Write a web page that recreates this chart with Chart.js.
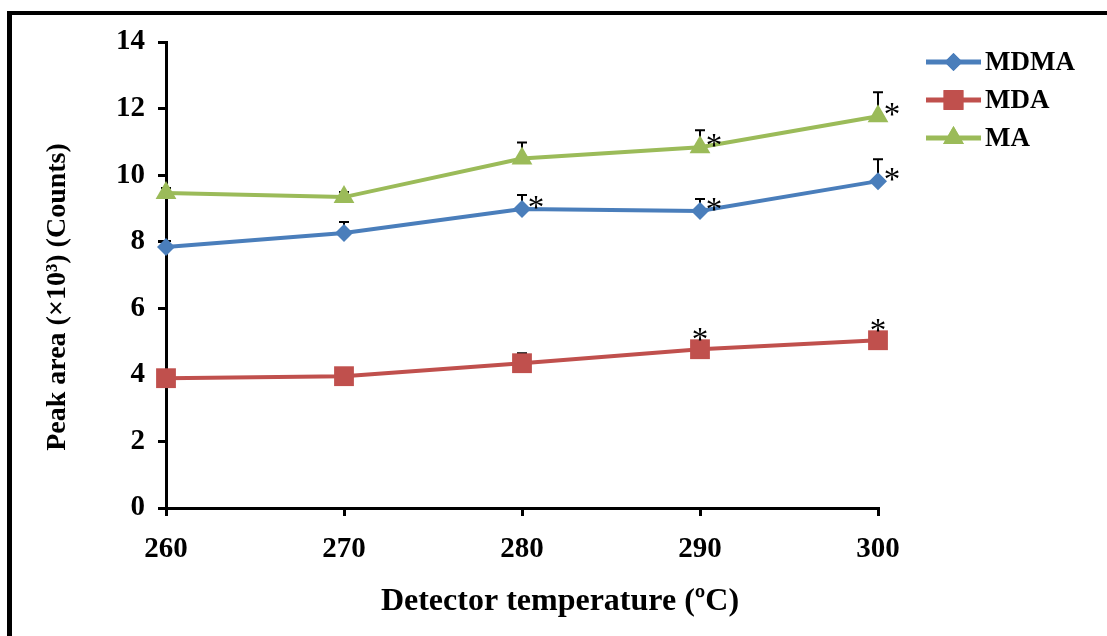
<!DOCTYPE html>
<html><head><meta charset="utf-8">
<script src="https://cdn.jsdelivr.net/npm/chart.js@4.4.0/dist/chart.umd.min.js"></script>
<style>
html,body{margin:0;padding:0;background:#fff;}
#wrap{position:relative;width:1107px;height:636px;overflow:hidden;background:#fff;}
#frameTop{position:absolute;left:7px;top:11px;width:1100px;height:4px;background:#000;}
#frameLeft{position:absolute;left:7px;top:11px;width:5px;height:625px;background:#000;}
canvas{position:absolute;left:0;top:0;}
</style></head><body>
<div id="wrap"><canvas id="c" width="1107" height="636"></canvas><div id="frameTop"></div><div id="frameLeft"></div></div>
<script>
const temperatures = ['260', '270', '280', '290', '300'];
const seriesNames = ['MDMA', 'MDA', 'MA'];
const mdma = [7.84, 8.26, 8.98, 8.92, 9.82];
const mda = [3.90, 3.96, 4.35, 4.77, 5.04];
const ma = [9.46, 9.34, 10.50, 10.84, 11.77];
const mdmaErr = [0.18, 0.33, 0.42, 0.36, 0.66];
const mdaErr = [0.10, 0.10, 0.30, 0.20, 0.20];
const maErr = [0.15, 0.15, 0.48, 0.51, 0.72];
const mdmaSig = [false, false, true, true, true];
const mdaSig = [false, false, false, true, true];
const maSig = [false, false, false, true, true];
const yMin = 0, yMax = 14, yStep = 2;
const xTitle = 'Detector temperature (\u00BAC)';
const yTitle = 'Peak area (\u00D710\u00B3) (Counts)';

const SERIF = '"Liberation Serif", "Times New Roman", serif';
const colors = ['#4A7EBB', '#C0504D', '#9BBB59'];
const styles = ['rectRot', 'rect', 'triangle'];
const radii = [9, 14, 12];
const errs = [mdmaErr, mdaErr, maErr];
const sigs = [mdmaSig, mdaSig, maSig];
const sigAbove = [false, true, false];

const overlay = {
  id: 'overlay',
  beforeDatasetsDraw(chart) {
    const ctx = chart.ctx, xs = chart.scales.x, ys = chart.scales.y;
    ctx.save();
    ctx.strokeStyle = '#000';
    ctx.lineWidth = 2;
    chart.data.datasets.forEach((ds, di) => {
      ds.data.forEach((v, i) => {
        const px = xs.getPixelForValue(i);
        const py = ys.getPixelForValue(v);
        const pe = ys.getPixelForValue(v + errs[di][i]);
        ctx.beginPath();
        ctx.moveTo(px, py); ctx.lineTo(px, pe);
        ctx.moveTo(px - 5, pe); ctx.lineTo(px + 5, pe);
        ctx.stroke();
      });
    });
    ctx.restore();
  },
  afterDatasetsDraw(chart) {
    const ctx = chart.ctx, xs = chart.scales.x, ys = chart.scales.y;
    ctx.save();
    ctx.fillStyle = '#000';
    ctx.font = '33px ' + SERIF;
    ctx.textAlign = 'center';
    ctx.textBaseline = 'alphabetic';
    chart.data.datasets.forEach((ds, di) => {
      ds.data.forEach((v, i) => {
        if (!sigs[di][i]) return;
        const px = xs.getPixelForValue(i);
        const py = ys.getPixelForValue(v);
        let cx, cy;
        if (sigAbove[di]) { cx = px; cy = py - 16; } else { cx = px + 14; cy = py - 8; }
        ctx.fillText('*', cx, cy + 17);
      });
    });
    // legend
    const rowsY = [62, 100, 138];
    chart.data.datasets.forEach((ds, di) => {
      const y = rowsY[di];
      ctx.strokeStyle = colors[di];
      ctx.lineWidth = 5;
      ctx.beginPath(); ctx.moveTo(926, y); ctx.lineTo(981, y); ctx.stroke();
      ctx.fillStyle = colors[di];
      Chart.helpers.drawPoint(ctx, {pointStyle: styles[di], radius: radii[di], rotation: 0, borderWidth: 0}, 953.5, y);
      ctx.fill();
      ctx.fillStyle = '#000';
      ctx.font = 'bold 27px ' + SERIF;
      ctx.textAlign = 'left';
      ctx.textBaseline = 'middle';
      ctx.fillText(ds.label, 985, y + 1);
    });
    // axis titles
    ctx.fillStyle = '#000';
    ctx.textAlign = 'center';
    ctx.textBaseline = 'middle';
    ctx.font = 'bold 32px ' + SERIF;
    ctx.fillText(xTitle, 560, 602);
    ctx.save();
    ctx.translate(58, 297);
    ctx.rotate(-Math.PI / 2);
    ctx.font = 'bold 28px ' + SERIF;
    ctx.fillText(yTitle, 0, 0);
    ctx.restore();
    ctx.restore();
  }
};

const values = [mdma, mda, ma];
new Chart(document.getElementById('c'), {
  type: 'line',
  data: {
    labels: temperatures,
    datasets: seriesNames.map((n, di) => ({
      label: n,
      data: values[di],
      borderColor: colors[di],
      backgroundColor: colors[di],
      borderWidth: 4,
      pointStyle: styles[di],
      pointRadius: radii[di],
      pointHoverRadius: radii[di],
      pointBorderWidth: 0,
      tension: 0
    }))
  },
  options: {
    responsive: false,
    animation: false,
    events: [],
    layout: { padding: { left: 0, top: 42, right: 229, bottom: 0 } },
    plugins: { legend: { display: false }, tooltip: { enabled: false }, title: { display: false } },
    scales: {
      x: {
        type: 'category',
        offset: false,
        grid: { display: true, drawOnChartArea: false, drawTicks: true, tickLength: 8, color: '#000', lineWidth: 3, offset: false },
        border: { display: true, color: '#000', width: 3 },
        ticks: { color: '#000', font: { family: SERIF, size: 29, weight: 'bold' }, padding: 16, maxRotation: 0, autoSkip: false },
        afterFit(s) { s.height = 128; }
      },
      y: {
        min: yMin, max: yMax,
        grid: { display: true, drawOnChartArea: false, drawTicks: true, tickLength: 8, color: '#000', lineWidth: 3 },
        border: { display: true, color: '#000', width: 3 },
        ticks: { stepSize: yStep, color: '#000', font: { family: SERIF, size: 29, weight: 'bold' }, padding: 13 },
        afterFit(s) { s.width = 166; }
      }
    }
  },
  plugins: [overlay]
});
</script>
</body></html>
